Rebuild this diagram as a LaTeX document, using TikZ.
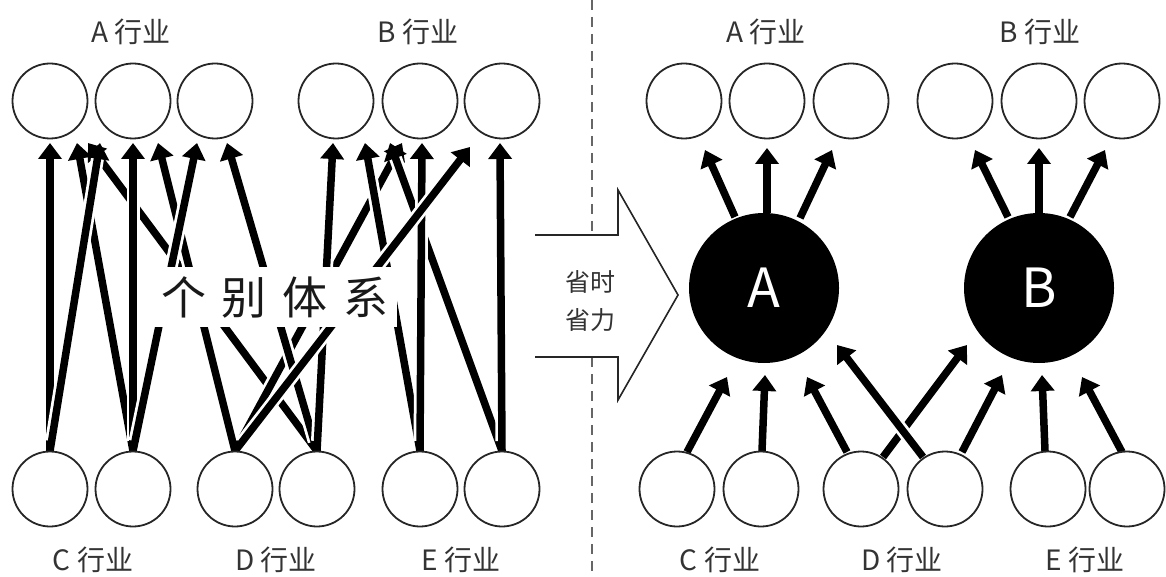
\documentclass[tikz,border=0pt]{standalone}
\usepackage{fontspec}
\setmainfont{Noto Sans CJK SC}
\usetikzlibrary{arrows.meta,calc}
\newcommand\arrw[2]{\draw[casing] #1 -- #2; \draw[arr] #1 -- #2;}
\begin{document}
\begin{tikzpicture}[x=1pt,y=-1pt,
  sc/.style={circle,draw=black!85,line width=1.8pt,fill=white,minimum size=75pt,inner sep=0pt},
  big/.style={circle,fill=black,minimum size=150pt,inner sep=0pt,text=white,font=\fontsize{54}{60}\selectfont},
  lab/.style={text=black!80,font=\fontsize{28}{32}\selectfont,inner sep=0pt},
  arr/.style={line width=7.5pt,-{Triangle[width=23pt,length=16pt]}},
  casing/.style={draw=white,line width=13pt,shorten >=14pt,shorten <=10pt},
]
\useasboundingbox (0,0) rectangle (1166,577);
% divider
\draw[dash pattern=on 10pt off 7pt,line width=1.8pt,black!60] (592,0) -- (592,577);
% block arrow
\fill[white] (535,235) -- (618,235) -- (618,190) -- (678,295) -- (618,400) -- (618,357) -- (535,357) -- cycle;
\draw[line width=1.6pt,black!85,line join=miter] (535,235) -- (618,235) -- (618,190) -- (678,295) -- (618,400) -- (618,357) -- (535,357);
\node[lab,font=\fontsize{25}{28}\selectfont] (s1) at (590,282) {省时};
\node[lab,font=\fontsize{25}{28}\selectfont] (s2) at (590,320) {省力};

% ---------- left: coordinates of circles
\coordinate (t1) at (50,101);  \coordinate (t2) at (133,101); \coordinate (t3) at (215,101);
\coordinate (t4) at (336,101); \coordinate (t5) at (420,101); \coordinate (t6) at (502,101);
\coordinate (b1) at (50,489);  \coordinate (b2) at (133,489); \coordinate (b3) at (235,489);
\coordinate (b4) at (317,489); \coordinate (b5) at (420,489); \coordinate (b6) at (502,489);
% left arrows (hidden ones first)
\arrw{($(b4)+(0,-38)$)}{($(t1)+(38,42)$)}
\arrw{($(b3)+(0,-38)$)}{($(t5)+(-18,42)$)}
\arrw{($(b1)+(0,-38)$)}{($(t1)+(0,42)$)}
\arrw{($(b2)+(0,-38)$)}{($(t1)+(27,42)$)}
\arrw{($(b1)+(0,-38)$)}{($(t2)+(-33,42)$)}
\arrw{($(b2)+(0,-38)$)}{($(t2)+(0,42)$)}
\arrw{($(b3)+(0,-38)$)}{($(t2)+(25,42)$)}
\arrw{($(b2)+(0,-38)$)}{($(t3)+(-18,42)$)}
\arrw{($(b4)+(0,-38)$)}{($(t3)+(12,42)$)}
\arrw{($(b4)+(0,-38)$)}{($(t4)+(-3,42)$)}
\arrw{($(b5)+(0,-38)$)}{($(t4)+(29,42)$)}
\arrw{($(b6)+(0,-38)$)}{($(t5)+(-30,42)$)}
\arrw{($(b5)+(0,-38)$)}{($(t5)+(2,42)$)}
\arrw{($(b3)+(0,-38)$)}{($(t6)+(-32,46)$)}
\arrw{($(b6)+(0,-38)$)}{($(t6)+(-2,42)$)}
% left circles
\foreach \n in {t1,t2,t3,t4,t5,t6,b1,b2,b3,b4,b5,b6} \node[sc] (L\n) at (\n) {};
% label over arrows
\node[fill=white,inner xsep=8pt,inner ysep=9pt,text=black!90,font=\fontsize{45}{50}\selectfont] (sys) at (275,297) {个\hspace{16pt}别\hspace{16pt}体\hspace{16pt}系};
\node[lab] (la) at (131,32) {A 行业};
\node[lab] (lb) at (418,32) {B 行业};
\node[lab] (lc) at (93,560) {C 行业};
\node[lab] (ld) at (276,560) {D 行业};
\node[lab] (le) at (461,560) {E 行业};

% ---------- right
\coordinate (u1) at (684,101);  \coordinate (u2) at (767,101); \coordinate (u3) at (851,101);
\coordinate (u4) at (955,101);  \coordinate (u5) at (1039,101); \coordinate (u6) at (1122,101);
\coordinate (v1) at (677,489);  \coordinate (v2) at (761,489); \coordinate (v3) at (861,489);
\coordinate (v4) at (945,489);  \coordinate (v5) at (1048,489); \coordinate (v6) at (1127,489);
\coordinate (A) at (764,288); \coordinate (B) at (1039,288);
\arrw{($(A)+(-29,-71)$)}{($(u1)+(21,49)$)}
\arrw{($(A)+(3,-75)$)}{($(u2)+(0,47)$)}
\arrw{($(A)+(36,-70)$)}{($(u3)+(-19,49)$)}
\arrw{($(B)+(-31,-71)$)}{($(u4)+(20,49)$)}
\arrw{($(B)+(0,-75)$)}{($(u5)+(0,47)$)}
\arrw{($(B)+(31,-71)$)}{($(u6)+(-17,49)$)}
\arrw{($(v1)+(10,-37)$)}{($(A)+(-37,89)$)}
\arrw{($(v2)+(1,-38)$)}{($(A)+(1,87)$)}
\arrw{($(v3)+(-14,-37)$)}{($(A)+(43,89)$)}
\arrw{($(v3)+(22,-32)$)}{($(B)+(-72,57)$)}
\arrw{($(v4)+(-22,-32)$)}{($(A)+(73,57)$)}
\arrw{($(v4)+(17,-37)$)}{($(B)+(-37,87)$)}
\arrw{($(v5)+(-3,-38)$)}{($(B)+(3,87)$)}
\arrw{($(v6)+(-5,-37)$)}{($(B)+(43,89)$)}
\foreach \n in {u1,u2,u3,u4,u5,u6,v1,v2,v3,v4,v5,v6} \node[sc] (R\n) at (\n) {};
\node[big] (bigA) at (A) {A};
\node[big] (bigB) at (B) {B};
\node[lab] (ra) at (766,32) {A 行业};
\node[lab] (rb) at (1040,32) {B 行业};
\node[lab] (rc) at (720,560) {C 行业};
\node[lab] (rd) at (902,560) {D 行业};
\node[lab] (re) at (1085,560) {E 行业};
\end{tikzpicture}
\end{document}
